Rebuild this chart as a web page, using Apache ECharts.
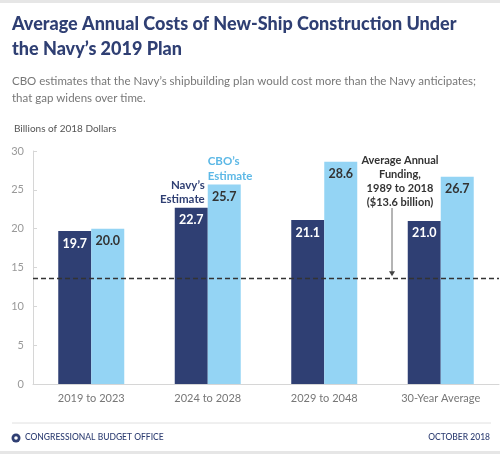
<!DOCTYPE html>
<html>
<head>
<meta charset="utf-8">
<script src="https://cdn.jsdelivr.net/npm/echarts@6/dist/echarts.min.js"></script>
<style>
  html, body { margin: 0; padding: 0; background: #fff; }
  #chart { width: 500px; height: 454px; }
</style>
</head>
<body>
<div id="chart"></div>
<script>
var categories = ["2019 to 2023", "2024 to 2028", "2029 to 2048", "30-Year Average"];
var navyEstimate = [19.7, 22.7, 21.1, 21.0];
var cboEstimate = [20.0, 25.7, 28.6, 26.7];
var avgFunding = 13.6;
var yTicks = [0, 5, 10, 15, 20, 25, 30];

var NAVY = "#2f3f73";
var LIGHT = "#94d4f4";
var FONT = "Lato, 'Open Sans', sans-serif";

var chart = echarts.init(document.getElementById("chart"));

var option = {
  backgroundColor: "#fff",
  animation: false,
  textStyle: { fontFamily: FONT },
  grid: { left: 33, right: 1, top: 151, bottom: 70 },
  xAxis: {
    type: "category",
    data: categories,
    axisLine: { lineStyle: { color: "#d6d6d6", width: 1 } },
    axisTick: { show: false },
    axisLabel: { color: "#777", fontSize: 11, margin: 9, fontFamily: FONT }
  },
  yAxis: {
    type: "value",
    min: yTicks[0],
    max: yTicks[yTicks.length - 1],
    interval: 5,
    splitLine: { show: false },
    axisLine: { show: true, lineStyle: { color: "#d6d6d6" } },
    axisTick: { show: true, inside: true, length: 4, lineStyle: { color: "#d6d6d6" } },
    axisLabel: { color: "#999", fontSize: 11, margin: 9, fontFamily: FONT }
  },
  series: [
    {
      name: "Navy's Estimate",
      type: "bar",
      data: navyEstimate,
      barWidth: 33,
      barGap: "0%",
      itemStyle: { color: NAVY },
      label: {
        show: true,
        position: "insideTop",
        distance: 6,
        color: "#fff",
        fontWeight: "bold",
        fontSize: 12.5,
        fontFamily: FONT,
        formatter: function (p) { return p.value.toFixed(1); }
      },
      markLine: {
        silent: true,
        symbol: "none",
        label: { show: false },
        lineStyle: { color: "#333", type: [5, 3], width: 1.3 },
        data: [{ yAxis: avgFunding }]
      },
      z: 2
    },
    {
      name: "CBO's Estimate",
      type: "bar",
      data: cboEstimate,
      barWidth: 33,
      itemStyle: { color: LIGHT },
      label: {
        show: true,
        position: "insideTop",
        distance: 6,
        color: "#333",
        fontWeight: "bold",
        fontSize: 12.5,
        fontFamily: FONT,
        formatter: function (p) { return p.value.toFixed(1); }
      },
      z: 2
    }
  ]
};

chart.setOption(option);

// annotation positions from the data through the axes (x = category centre)
var navyTop = chart.convertToPixel({ seriesIndex: 0 }, [1, navyEstimate[1]]);
var cboTop = chart.convertToPixel({ seriesIndex: 1 }, [1, cboEstimate[1]]);
var fundY = chart.convertToPixel({ yAxisIndex: 0 }, avgFunding);

chart.setOption({
  graphic: [
    { type: "rect", shape: { x: 0, y: 0, width: 500, height: 3 }, style: { fill: "#e6e6e6" } },
    {
      type: "text", left: 12, top: 12,
      style: {
        text: "Average Annual Costs of New-Ship Construction Under\nthe Navy\u2019s 2019 Plan",
        fill: NAVY, font: "900 18px " + FONT, lineHeight: 25
      }
    },
    {
      type: "text", left: 12, top: 73,
      style: {
        text: "CBO estimates that the Navy\u2019s shipbuilding plan would cost more than the Navy anticipates;\nthat gap widens over time.",
        fill: "#777", font: "11.5px " + FONT, lineHeight: 17
      }
    },
    {
      type: "text", left: 14, top: 124,
      style: { text: "Billions of 2018 Dollars", fill: "#555", font: "10px " + FONT }
    },
    {
      type: "text", x: navyTop[0] - 3, y: navyTop[1] - 1,
      style: {
        text: "Navy\u2019s\nEstimate", fill: NAVY, font: "bold 11.5px " + FONT,
        lineHeight: 14.5, align: "right", verticalAlign: "bottom"
      }
    },
    {
      type: "text", x: cboTop[0], y: cboTop[1] - 1,
      style: {
        text: "CBO\u2019s\nEstimate", fill: "#5cb8e6", font: "bold 11.5px " + FONT,
        lineHeight: 14.5, align: "left", verticalAlign: "bottom"
      }
    },
    {
      type: "text", x: 400, y: 153,
      style: {
        text: "Average Annual\nFunding,\n1989 to 2018\n($13.6 billion)", fill: "#333",
        font: "bold 11px " + FONT, lineHeight: 14, align: "center"
      }
    },
    {
      type: "line", shape: { x1: 392, y1: 208, x2: 392, y2: fundY - 4 },
      style: { stroke: "#444", lineWidth: 0.8 }
    },
    {
      type: "polygon", shape: { points: [[389, fundY - 7], [395, fundY - 7], [392, fundY - 2]] },
      style: { fill: "#444" }
    },
    { type: "line", shape: { x1: 12, y1: 423, x2: 491, y2: 423 }, style: { stroke: "#e0e0e0", lineWidth: 1 } },
    { type: "circle", shape: { cx: 16, cy: 438, r: 4.5 }, style: { fill: NAVY } },
    { type: "circle", shape: { cx: 16, cy: 438, r: 1.8 }, style: { fill: "#fff" } },
    {
      type: "text", left: 25, top: 433,
      style: { text: "CONGRESSIONAL BUDGET OFFICE", fill: NAVY, font: "500 8.5px " + FONT }
    },
    {
      type: "text", right: 10, top: 433,
      style: { text: "OCTOBER 2018", fill: NAVY, font: "500 8.5px " + FONT }
    },
    { type: "rect", shape: { x: 0, y: 451, width: 500, height: 3 }, style: { fill: "#e6e6e6" } }
  ]
});
</script>
</body>
</html>
